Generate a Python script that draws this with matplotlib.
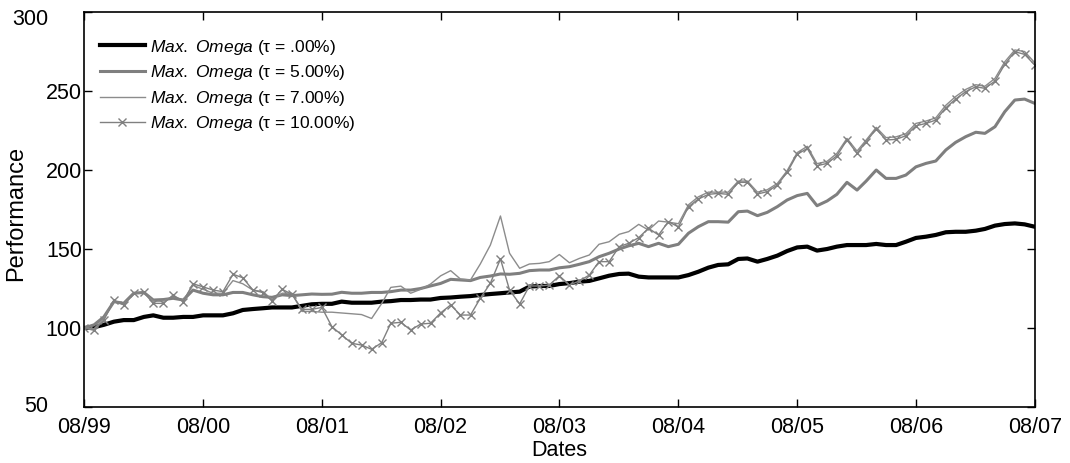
"""Cumulative performance of the Max. Omega portfolios for several thresholds."""
import matplotlib

matplotlib.use("Agg")
import matplotlib.dates as mdates
import matplotlib.pyplot as plt
import matplotlib.transforms as mtransforms
import pandas as pd

plt.rcParams.update(
    {
        "font.family": ["Liberation Sans", "DejaVu Sans"],
        "mathtext.fontset": "custom",
        "mathtext.it": "Liberation Sans:italic",
        "mathtext.rm": "Liberation Sans",
    }
)

# monthly index levels, base 100 in Aug 1999
dates = pd.date_range("1999-08-01", "2007-08-01", freq="MS")

omega_000 = [
    100, 100.5, 102, 104, 105, 105, 107, 108, 106.5, 106.5, 107, 107,
    108, 108, 108, 109.3, 111.4, 112, 112.5, 113, 113, 113, 114, 115,
    115.3, 115.3, 116.7, 116, 116, 116, 116.7, 117, 117.7, 117.7, 118, 118,
    119, 119.3, 119.8, 120.2, 120.9, 121.5, 122, 122.5, 123, 126.2, 126.6, 126.6,
    127.8, 128.4, 129.3, 129.8, 131.4, 133.1, 134.2, 134.4, 132.5, 132, 132, 132,
    132, 133.5, 135.6, 138.2, 139.9, 140.3, 143.7, 144, 142, 143.7, 145.8, 148.7,
    151, 151.5, 149, 150, 151.5, 152.5, 152.5, 152.5, 153.2, 152.5, 152.5, 154.6,
    157, 157.8, 158.9, 160.6, 160.9, 160.9, 161.6, 162.7, 164.8, 165.8, 166.2, 165.6,
    164.1,
]
omega_500 = [
    100, 102, 107, 116.7, 115.6, 122, 122.5, 117.7, 118, 118.8, 117.7, 124,
    122, 121, 121, 122.5, 122.5, 121, 119.8, 119.4, 121, 120.5, 121, 121.5,
    121.3, 121.4, 122.6, 122, 122, 122.5, 122.5, 123, 124, 124, 125, 126.6,
    128.2, 130.8, 130.4, 130, 132, 132.9, 134.2, 134, 134.6, 136.3, 136.7, 136.7,
    138.1, 138.8, 140.3, 142, 145.1, 147.3, 150, 152, 153.6, 151.5, 153.6, 151.5,
    153, 160, 164.1, 167.3, 167.3, 167, 173.6, 174, 171.1, 173.2, 176.8, 181,
    183.8, 185.2, 177.4, 180.4, 184.6, 192.2, 187.3, 193, 200, 194.7, 194.7, 196.8,
    202, 204.2, 205.7, 212.7, 217.5, 221.1, 223.9, 223.2, 227.4, 236.9, 244.3, 244.9,
    242.2,
]
omega_700 = [
    100, 99.5, 106, 117, 115, 122, 122.5, 117, 117, 120, 117.5, 127,
    124.5, 122, 122, 130, 128, 124, 123, 118, 122, 122, 110.5, 110.5,
    110, 110, 109.5, 109, 108.5, 106, 115.5, 125.7, 126.5, 122, 124.5, 127.8,
    133, 136.3, 131, 130.4, 140.5, 152.5, 170.9, 147.3, 137.8, 140.5, 140.9, 142,
    146.5, 141.3, 144, 146.2, 153, 154.6, 159.3, 161, 165.6, 162, 167.7, 167,
    166, 178, 183, 186, 186, 186, 193, 193, 186, 187.5, 191.5, 199.5,
    211, 215, 204, 205.5, 210.5, 220, 212, 219, 227, 220.5, 221, 223,
    229.5, 231, 233, 241, 246.5, 251, 254, 253, 258, 268.5, 276, 275,
    268,
]
omega_1000 = [
    100, 98.5, 105, 117.5, 114.6, 122, 122.5, 115.6, 115.6, 120.9, 116.7, 128,
    126, 124, 123, 134, 131.8, 124, 122.4, 117.3, 124.5, 121.3, 111.8, 111.8,
    113, 100.8, 95.6, 90.3, 89.2, 86.5, 90.7, 103, 103.6, 98.7, 102.5, 103,
    109.5, 114.6, 108.2, 108.2, 118.8, 128.3, 143.7, 124, 115.2, 126.6, 126.6, 127.2,
    133, 127.2, 129.7, 133.5, 142, 142, 151.5, 153.6, 157.2, 163.1, 158.9, 167.3,
    164, 176.8, 181.6, 184.6, 185.2, 184.6, 192.2, 192.2, 184.8, 186.3, 190.5, 198.5,
    209.9, 213.7, 202.7, 204.2, 209, 219, 210.6, 217.9, 226, 219, 219.4, 221.7,
    228, 229.5, 231.6, 239.4, 244.9, 249.6, 252.7, 251.7, 256.3, 266.9, 274.9, 273.2,
    266.5,
]

labels = [
    r"$\it{Max.\ Omega}$ (τ = .00%)",
    r"$\it{Max.\ Omega}$ (τ = 5.00%)",
    r"$\it{Max.\ Omega}$ (τ = 7.00%)",
    r"$\it{Max.\ Omega}$ (τ = 10.00%)",
]

fig = plt.figure(figsize=(10.7, 4.63), dpi=100)
ax = fig.add_axes([0.0785, 0.121, 0.8885, 0.853])

ax.plot(dates, omega_000, color="black", lw=3.0, label=labels[0])
ax.plot(dates, omega_500, color="#7f7f7f", lw=2.2, label=labels[1])
ax.plot(dates, omega_700, color="#8c8c8c", lw=1.0, label=labels[2])
ax.plot(dates, omega_1000, color="#808080", lw=1.0, marker="x", ms=5.5,
        mew=1.0, label=labels[3])

ax.set_xlim(dates[0], dates[-1])
ax.set_ylim(50, 300)
ax.set_yticks(range(50, 301, 50))
ax.set_xticks(pd.date_range("1999-08-01", "2007-08-01", freq="12MS"))
ax.xaxis.set_major_formatter(mdates.DateFormatter("%m/%y"))

ax.tick_params(direction="in", length=6, width=1, top=True, right=True,
               labelsize=15.5)
ax.tick_params(axis="x", pad=7)
ax.tick_params(axis="y", pad=1.5)
for side in ax.spines.values():
    side.set_linewidth(1.2)

# the end labels of the y axis sit further out, clear of the corner
fig.canvas.draw()
ylabels = ax.get_yticklabels()
for lab, dy in ((ylabels[0], 0.03), (ylabels[-1], -0.05)):
    shift = mtransforms.ScaledTranslation(-0.34, dy, fig.dpi_scale_trans)
    lab.set_transform(lab.get_transform() + shift)

ax.set_xlabel("Dates", fontsize=15.5)
ax.xaxis.set_label_coords(0.5, -0.083)
ax.set_ylabel("Performance", fontsize=17)
ax.yaxis.set_label_coords(-0.06, 0.49)

ax.legend(loc="upper left", frameon=False, fontsize=12.5, handlelength=2.6,
          handletextpad=0.3, labelspacing=0.38, borderaxespad=0.5,
          bbox_to_anchor=(0.0, 0.975))

fig.savefig("out.png", dpi=100)
